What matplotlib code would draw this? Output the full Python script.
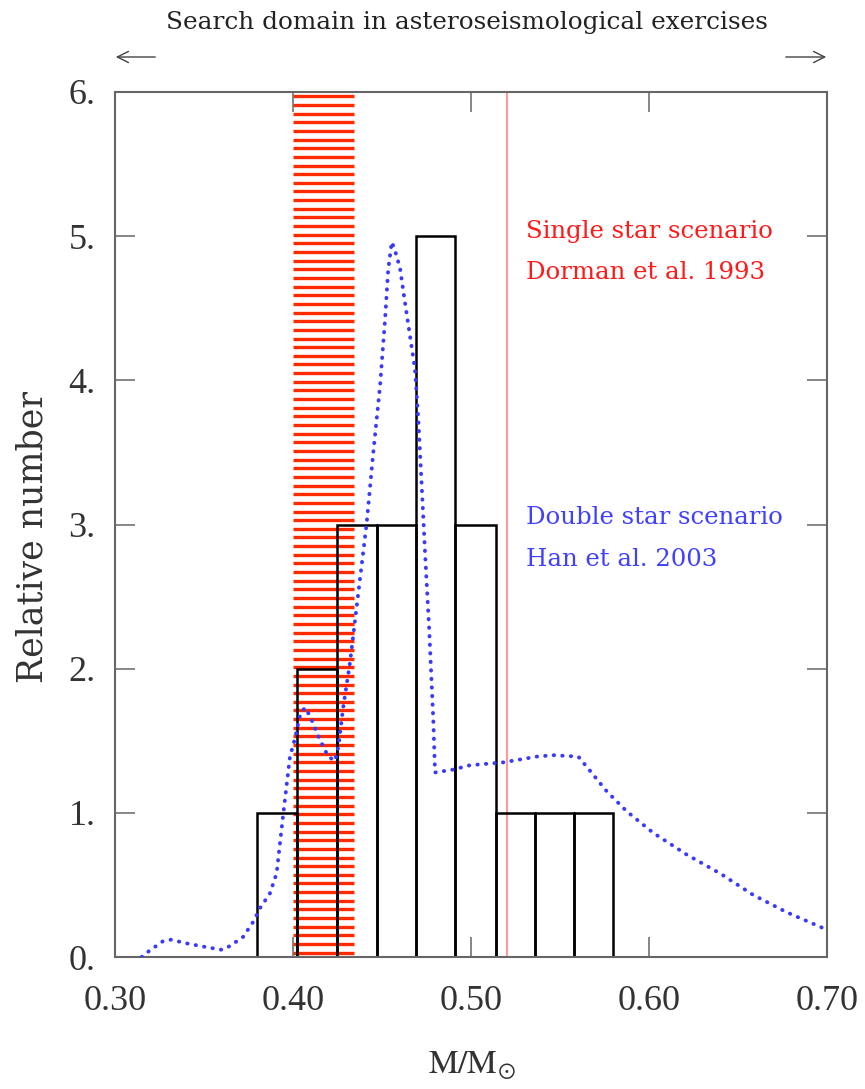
import numpy as np
import matplotlib
matplotlib.use("Agg")
import matplotlib.pyplot as plt

plt.rcParams['mathtext.fontset'] = 'stix'

# histogram of sdB masses
bin_edges = [0.380, 0.402, 0.4245, 0.447, 0.469, 0.491, 0.514, 0.536, 0.558, 0.580]
counts = [1, 2, 3, 3, 5, 3, 1, 1, 1]

# Han et al. 2003 mass distribution (dotted blue)
han_mass = [0.315, 0.319, 0.327, 0.3315, 0.340, 0.3506, 0.360, 0.3646, 0.372, 0.3777,
            0.3815, 0.387, 0.3908, 0.3946, 0.3983, 0.401, 0.404, 0.4067, 0.4096, 0.415,
            0.4198, 0.4236, 0.4255, 0.4283, 0.432, 0.4414, 0.4451, 0.4489, 0.4517, 0.4535,
            0.4555, 0.4573, 0.4601, 0.4629, 0.4657, 0.4685, 0.4704, 0.4723, 0.4742, 0.4766,
            0.4788, 0.4798, 0.490, 0.4994, 0.5181, 0.5369, 0.5462, 0.5603, 0.565, 0.5762,
            0.5875, 0.6025, 0.6212, 0.6399, 0.6586, 0.6774, 0.6979, 0.700]
han_number = [0.0, 0.04, 0.11, 0.12, 0.095, 0.07, 0.05, 0.076, 0.14, 0.245,
              0.34, 0.44, 0.58, 1.0, 1.39, 1.51, 1.68, 1.73, 1.67, 1.51,
              1.39, 1.36, 1.46, 1.74, 2.04, 3.01, 3.50, 3.96, 4.42, 4.77,
              4.96, 4.90, 4.78, 4.54, 4.31, 4.08, 3.73, 3.27, 2.80, 2.25,
              1.65, 1.28, 1.30, 1.33, 1.35, 1.39, 1.40, 1.39, 1.32, 1.15,
              1.01, 0.86, 0.71, 0.58, 0.43, 0.31, 0.20, 0.19]

# Dorman et al. 1993 single star range and canonical mass line
dorman_range = (0.400, 0.434)
canonical_mass = 0.52

x_ticks = [0.30, 0.40, 0.50, 0.60, 0.70]
x_ticklabels = ['0.30', '0.40', '0.50', '0.60', '0.70']
y_ticks = [0, 1, 2, 3, 4, 5, 6]
y_ticklabels = ['0.', '1.', '2.', '3.', '4.', '5.', '6.']

W, H = 865, 1089
fig = plt.figure(figsize=(W / 100, H / 100), dpi=100)
ax = fig.add_axes([115 / W, 1 - 957 / H, 712 / W, 865 / H])

# red hatched band
hatch_y = np.arange(0.03, 6.0, 0.06)
ax.hlines(hatch_y, dorman_range[0], dorman_range[1], color='#ff2a00', lw=2.4, zorder=1)
ax.axvline(canonical_mass, color='#ff9a9a', lw=1.5, zorder=1)

# histogram bars, each its own outline
widths = np.diff(bin_edges)
ax.bar(bin_edges[:-1], counts, width=widths, align='edge', fill=False,
       edgecolor='black', lw=1.8, zorder=2)

ax.plot(han_mass, han_number, color='#3a3aff', lw=2.8,
        linestyle=(0, (0.1, 2.1)), dash_capstyle='round', zorder=3)

ax.set_xlim(0.30, 0.70)
ax.set_ylim(0, 6)
ax.set_xticks(x_ticks)
ax.set_xticklabels(x_ticklabels)
ax.set_yticks(y_ticks)
ax.set_yticklabels(y_ticklabels)
ax.tick_params(direction='in', length=14.5, width=1.1, color='#666666',
               top=True, right=True, labelsize=26, labelcolor='#333333')
ax.tick_params(axis='x', pad=20)
ax.tick_params(axis='y', pad=14)
for lab in ax.get_xticklabels() + ax.get_yticklabels():
    lab.set_fontfamily('Liberation Serif')
for sp in ax.spines.values():
    sp.set_color('#666666')
    sp.set_linewidth(1.5)

# labels
fig.text(33 / W, 1 - 537 / H, 'Relative number', rotation=90, ha='center', va='center',
         fontsize=25, family='DejaVu Serif', color='#333333')
fig.text(472 / W, 1 - 1065 / H, r'$\mathrm{M/M_{\odot}}$', ha='center', va='center',
         fontsize=24, color='#333333')

ax.text(0.5309, 5.03, 'Single star scenario', color='#ff1a1a', fontsize=17.6,
        family='DejaVu Serif', ha='left', va='center')
ax.text(0.5309, 4.75, 'Dorman et al. 1993', color='#ff1a1a', fontsize=17.6,
        family='DejaVu Serif', ha='left', va='center')
ax.text(0.5309, 3.05, 'Double star scenario', color='#4040ff', fontsize=17.6,
        family='DejaVu Serif', ha='left', va='center')
ax.text(0.5309, 2.76, 'Han et al. 2003', color='#4040ff', fontsize=17.6,
        family='DejaVu Serif', ha='left', va='center')

# search domain header with arrows
fig.text(467 / W, 1 - 22 / H, 'Search domain in asteroseismological exercises',
         ha='center', va='center', fontsize=17.8, family='DejaVu Serif', color='#222222')
fig.patches.append(matplotlib.patches.FancyArrowPatch(
    (158 / W, 1 - 57 / H), (113 / W, 1 - 57 / H), transform=fig.transFigure,
    arrowstyle='->,head_length=8,head_width=4', color='#444444', lw=1.0))
fig.patches.append(matplotlib.patches.FancyArrowPatch(
    (783 / W, 1 - 57 / H), (829 / W, 1 - 57 / H), transform=fig.transFigure,
    arrowstyle='->,head_length=8,head_width=4', color='#444444', lw=1.0))

fig.savefig('out.png', dpi=100)
